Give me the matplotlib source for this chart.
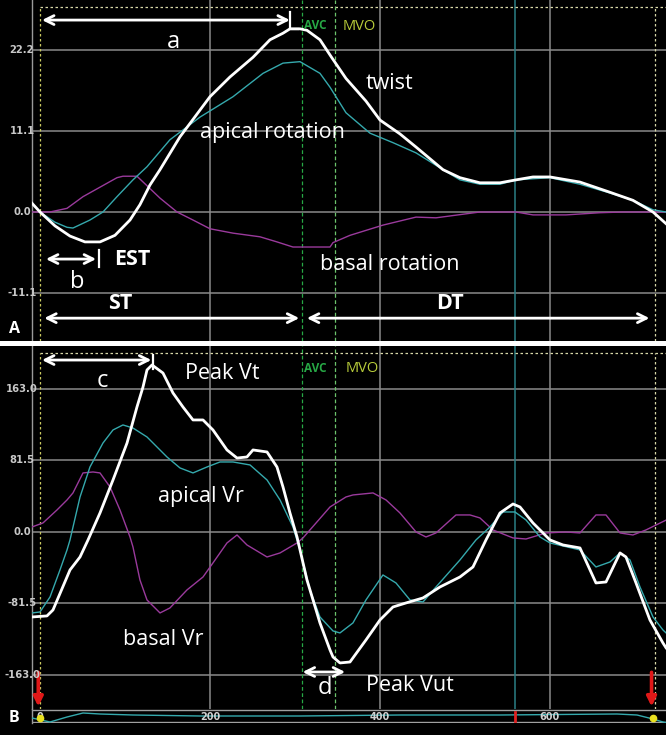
import matplotlib
matplotlib.use("Agg")
import matplotlib.pyplot as plt
import matplotlib.transforms as mtrans

W, H = 666, 735

# ---------------- Panel A: rotation (deg) vs time (ms) ----------------
twist_t = [-9.4, 0, 17.6, 35.3, 52.9, 70.6, 88.2, 105.9, 117.6, 129.4, 141.2, 164.7, 200, 223.5,
           250.6, 270.6, 285.9, 294.1, 305.9, 314.1, 329.4, 343, 360, 383.5, 400, 423.5, 442.4,
           474.1, 494.1, 517.6, 541.2, 560, 580, 600, 635.3, 670.6, 697.6, 721.2, 736.5]
twist_v = [1.2, 0, -1.9, -3.3, -4.1, -4.1, -3.2, -1.1, 1.0, 3.7, 5.8, 10.3, 15.8, 18.5,
           21.2, 23.6, 24.5, 25.1, 25.1, 24.9, 23.6, 21.2, 18.3, 15.2, 12.6, 10.7, 8.9,
           5.8, 4.7, 4.0, 4.0, 4.4, 4.8, 4.8, 4.1, 2.7, 1.6, 0.0, -1.6]

apical_t = [0, 17.6, 31.8, 38.8, 58.8, 74.1, 90.6, 109.4, 125.9, 152.9, 188.2, 227.1, 262.4,
            285.9, 305.9, 329.4, 341.2, 360, 388.2, 415.3, 442.4, 474.1, 494.1, 517.6, 541.2,
            560, 600, 635.3, 670.6, 697.6, 721.2, 736.5]
apical_v = [0, -1.4, -2.1, -2.2, -1.1, 0.0, 2.1, 4.4, 6.2, 9.9, 13.0, 15.8, 19.0,
            20.4, 20.6, 19.0, 17.1, 13.6, 10.8, 9.5, 8.1, 5.8, 4.4, 3.8, 3.8,
            4.4, 4.7, 3.8, 2.6, 1.6, 0.3, 0.0]

basal_t = [-9.4, 11.8, 31.8, 50.6, 70.6, 90.6, 97.6, 114.1, 125.9, 141.2, 161.2, 180, 200,
           227.1, 258.8, 278.8, 297.6, 341.2, 344.7, 364.7, 403.5, 442.4, 465.9, 517.6, 560,
           580, 618.8, 658.8, 685.9, 736.5]
basal_v = [0, 0, 0.5, 2.1, 3.4, 4.7, 4.9, 4.9, 3.6, 1.9, 0, -1.1, -2.3,
           -2.9, -3.4, -4.1, -4.8, -4.8, -4.2, -3.2, -1.8, -0.7, -0.8, 0, 0,
           -0.4, -0.4, -0.1, 0, 0]

# ---------------- Panel B: rotation rate (deg/s) vs time (ms) ----------------
vt_t = [-9.4, 8.2, 15.3, 35.3, 47.1, 56.5, 70.6, 85.9, 102.4, 114.1, 121.2, 125.9, 131.8, 144.7,
        156.5, 168.2, 180, 191.8, 203.5, 220, 231.8, 243.5, 250.6, 267.1, 278.8, 285.9, 294.1,
        302.4, 314.1, 329.4, 341.2, 344.7, 352.9, 364.7, 383.5, 400, 415.3, 430.6, 450.6, 470.6,
        494.1, 509.4, 524.7, 541.2, 556.5, 564.7, 580, 600, 615.3, 635.3, 654.1, 665.9, 682.4,
        689.4, 701.2, 717.6, 732.9, 736.5]
vt_v = [-96.9, -95.7, -88.9, -43.3, -28.5, -9.1, 21.7, 59.3, 101.4, 142.5, 165.3, 184.7, 190.4, 181.2,
        158.4, 142.5, 127.7, 127.7, 116.3, 93.5, 84.3, 85.5, 93.5, 91.2, 74.1, 51.3, 21.7,
        -5.7, -54.7, -103.7, -134.5, -142.5, -149.3, -148.2, -123.1, -100.3, -85.5, -80.9, -75.2, -62.7,
        -51.3, -39.9, -9.1, 21.7, 31.9, 28.5, 10.3, -9.1, -14.8, -18.2, -58.1, -57.0, -23.9,
        -28.5, -58.1, -100.3, -126.5, -132]

avr_t = [-9.4, 0, 11.8, 23.5, 31.8, 35.3, 47.1, 58.8, 74.1, 85.9, 97.6, 109.4, 125.9, 149.4,
         164.7, 180, 196.5, 211.8, 227.1, 247.1, 267.1, 282.4, 297.6, 305.9, 317.6, 329.4, 344.7,
         352.9, 368.2, 383.5, 403.5, 418.8, 435.3, 450.6, 465.9, 494.1, 512.9, 529.4, 544.7, 558.8,
         571.8, 588.2, 600, 635.3, 654.1, 670.6, 682.4, 694.1, 705.9, 721.2, 732.9, 736.5]
avr_v = [-92.3, -91.2, -74.1, -43.3, -20.5, -9.1, 39.9, 74.1, 101.4, 116.3, 122.0, 118.5, 108.3, 85.5,
         73.0, 67.3, 74.1, 79.8, 79.8, 76.4, 59.3, 36.5, 5.7, -20.5, -66.1, -96.9, -112.8,
         -115.1, -103.7, -77.5, -49.0, -58.1, -77.5, -79.8, -62.7, -31.9, -9.1, 5.7, 22.8, 22.8,
         13.7, -5.7, -12.5, -20.5, -39.9, -34.2, -23.9, -31.9, -62.7, -96.9, -111.7, -115]

bvr_t = [-9.4, 3.5, 20, 31.8, 38.8, 50.6, 62.4, 70.6, 82.4, 94.1, 105.9, 109.4, 117.6, 125.9,
         141.2, 152.9, 172.9, 191.8, 203.5, 220, 231.8, 243.5, 267.1, 282.4, 302.4, 309.4, 341.2,
         360, 368.2, 391.8, 407.1, 423.5, 442.4, 454.1, 465.9, 489.4, 505.9, 517.6, 532.9, 556.5,
         571.8, 595.3, 618.8, 635.3, 654.1, 665.9, 682.4, 697.6, 712.9, 736.5]
bvr_v = [5.7, 10.3, 25.1, 36.5, 44.5, 67.3, 68.4, 67.3, 51.3, 25.1, -5.7, -17.1, -54.7, -77.5,
         -92.3, -86.6, -66.1, -51.3, -35.3, -12.5, -3.4, -14.8, -28.5, -23.9, -12.5, -6.8, 28.5,
         39.9, 42.2, 44.5, 36.5, 21.7, 0.0, -5.7, -1.1, 19.4, 19.4, 16.0, 2.3, -6.8,
         -8.0, -1.1, 0.0, -1.1, 19.4, 19.4, -1.1, -3.4, 2.3, 13.5]

# thumbnail trace in the bottom strip (arbitrary units)
strip_t = [-9.4, 11.8, 31.8, 50.6, 70.6, 109.4, 188.2, 305.9, 423.5, 541.2, 678.8, 702.4, 721.2, 732.9, 736.5]
strip_v = [5, 1, 6, 10, 9, 8, 7, 7, 8, 8, 9, 8, 4, 1, 0.5]

a_ticks = [22.2, 11.1, 0.0, -11.1]
b_ticks = [163.0, 81.5, 0.0, -81.5, -163.0]
time_ticks = [0, 200, 400, 600]
avc_t, mvo_t, mark_t, start_t, end_t = 308.2, 347.5, 558.8, 0.0, 723.5

FONT = ["Open Sans", "DejaVu Sans"]
plt.rcParams["font.family"] = FONT

GRID = "#8a8a8a"
TEAL = "#35a9ad"
PURPLE = "#9a3a9c"
DOT = "#d8d8a8"
AVC_C = "#27a845"
MVO_C = "#6cc46c"

fig = plt.figure(figsize=(W / 100, H / 100), dpi=100, facecolor="black")


def px_axes(x0, y0, x1, y1):
    return fig.add_axes([x0 / W, 1 - y1 / H, (x1 - x0) / W, (y1 - y0) / H])


XL = (-9.4, 736.5)

# white separator band
fig.patches.append(plt.Rectangle((0, 1 - 346 / H), 1, 5 / H, transform=fig.transFigure,
                                 facecolor="white", edgecolor="none", zorder=5))

axA = px_axes(32, 0, W, 341)
axB = px_axes(32, 346, W, 709)
axS = px_axes(32, 709, W, 723)

for ax in (axA, axB, axS):
    ax.set_facecolor("black")
    ax.set_xlim(*XL)
    ax.set_xticks([])
    ax.set_yticks([])
    for s in ("top", "right", "bottom"):
        ax.spines[s].set_visible(False)
    ax.spines["left"].set_color("#9a9a9a")
    ax.spines["left"].set_linewidth(1.0)

axA.set_ylim(-17.68, 29.05)
axB.set_ylim(-201.8, 212.0)
axS.set_ylim(0, 14)


def frame(ax, ticks, top_v, ymin):
    for v in ticks:
        ax.axhline(v, color=GRID, lw=1.1, zorder=1)
    for t in time_ticks[1:]:
        ax.axvline(t, color=GRID, lw=1.1, zorder=1)
    ax.axvline(mark_t, color="#2b7f86", lw=1.1, zorder=1)
    ax.plot([start_t, XL[1]], [top_v, top_v], color=DOT, lw=0.9, ls=(0, (2, 2)), zorder=2)
    ax.plot([start_t, start_t], [ymin, top_v], color="#c8c860", lw=0.9, ls=(0, (2, 2)), zorder=2)
    ax.plot([end_t, end_t], [ymin, top_v], color=DOT, lw=0.9, ls=(0, (2, 2)), zorder=2)
    ax.axvline(avc_t, color=AVC_C, lw=0.9, ls=(0, (3, 2)), zorder=2)
    ax.axvline(mvo_t, color=MVO_C, lw=0.9, ls=(0, (3, 2)), zorder=2)


frame(axA, a_ticks, 28.1, -17.68)
frame(axB, b_ticks, 204.0, -201.8)

# tick labels
for ax, ticks in ((axA, a_ticks), (axB, b_ticks)):
    tr = mtrans.blended_transform_factory(fig.transFigure, ax.transData)
    for v in ticks:
        fig.text(22 / W, v, "{:.1f}".format(v), transform=tr, ha="center", va="center",
                 color="#c8c8c8", fontsize=7.2, fontweight="bold", family="DejaVu Sans", zorder=6)

# curves panel A
axA.plot(basal_t, basal_v, color=PURPLE, lw=1.0, zorder=3)
axA.plot(apical_t, apical_v, color=TEAL, lw=1.0, zorder=3)
axA.plot(twist_t, twist_v, color="white", lw=2.0, zorder=4)

# curves panel B
axB.plot(bvr_t, bvr_v, color=PURPLE, lw=1.0, zorder=3)
axB.plot(avr_t, avr_v, color=TEAL, lw=1.0, zorder=3)
axB.plot(vt_t, vt_v, color="white", lw=2.0, zorder=4)

# strip
axS.axhline(13, color="#a0a0a0", lw=1.0)
axS.axhline(1, color="#a0a0a0", lw=1.0)
axS.plot(strip_t, strip_v, color=TEAL, lw=1.0, zorder=3)
for t in time_ticks:
    axS.text(t, 6.5, str(t), ha="center", va="center", color="#d0d0d0", fontsize=7,
             fontweight="bold", family="DejaVu Sans", zorder=5)
axS.plot([mark_t, mark_t], [2.5, 11], color="#e02020", lw=2.0, zorder=4)
axS.plot([start_t, end_t - 2], [5, 5], ls="none", marker="o", ms=4.5, color="#e8e020",
         zorder=6, clip_on=False)

WHITE = "white"


def darrow(ax, t0, t1, v):
    ax.annotate("", xy=(t1, v), xytext=(t0, v),
                arrowprops=dict(arrowstyle="<->", color=WHITE, lw=2.0, shrinkA=0, shrinkB=0,
                                mutation_scale=16), zorder=6)


def label(ax, t, v, s, size=15.5, weight="normal", color=WHITE, ha="center"):
    ax.text(t, v, s, ha=ha, va="center", fontsize=size, fontweight=weight, color=color, zorder=7)


# ---- annotations A ----
darrow(axA, 2.4, 294.0, 26.3)
axA.plot([294.0, 294.0, 304.0], [27.4, 25.1, 25.1], color=WHITE, lw=1.6, zorder=6)
label(axA, 156.5, 23.3, "a", 17)
label(axA, 311.0, 25.5, "AVC", 8.5, "bold", AVC_C, "left")
label(axA, 355.5, 25.4, "MVO", 10.5, "normal", "#b8cc3a", "left")
label(axA, 410.6, 17.6, "twist")
label(axA, 274.0, 10.9, "apical rotation")
label(axA, 411.8, -7.2, "basal rotation")
darrow(axA, 7.0, 66.0, -6.45)
axA.plot([69.4, 69.4], [-5.2, -7.6], color=WHITE, lw=1.6, zorder=6)
label(axA, 109.0, -6.5, "EST", 15.5, "bold")
label(axA, 43.5, -9.6, "b", 17)
label(axA, 94.0, -12.6, "ST", 15.5, "bold")
label(axA, 482.0, -12.5, "DT", 15.5, "bold")
darrow(axA, 5.0, 305.0, -14.55)
darrow(axA, 314.0, 717.0, -14.55)

# ---- annotations B ----
darrow(axB, 2.4, 131.0, 196.0)
axB.plot([133.0, 133.0], [202.0, 186.0], color=WHITE, lw=1.6, zorder=6)
label(axB, 72.9, 172.0, "c", 17)
label(axB, 214.7, 180.5, "Peak Vt")
label(axB, 311.0, 186.0, "AVC", 8.5, "bold", AVC_C, "left")
label(axB, 359.0, 186.4, "MVO", 10.5, "normal", "#b8cc3a", "left")
label(axB, 189.4, 40.5, "apical Vr")
label(axB, 144.7, -123.0, "basal Vr")
darrow(axB, 309.0, 359.0, -159.6)
label(axB, 335.3, -178.0, "d", 17)
label(axB, 435.3, -175.5, "Peak Vut")
for t in (-2.0, 719.5):
    axB.annotate("", xy=(t, -199.0), xytext=(t, -160.0),
                 arrowprops=dict(arrowstyle="-|>", color="#e01818", lw=2.6, shrinkA=0, shrinkB=0,
                                 mutation_scale=14), zorder=7, annotation_clip=False)

fig.text(14 / W, 1 - 329 / H, "A", ha="center", va="center", color=WHITE, fontsize=11.5,
         fontweight="bold", zorder=7)
fig.text(14 / W, 1 - 718 / H, "B", ha="center", va="center", color=WHITE, fontsize=11.5,
         fontweight="bold", zorder=7)

fig.savefig("out.png", dpi=100, facecolor="black")
